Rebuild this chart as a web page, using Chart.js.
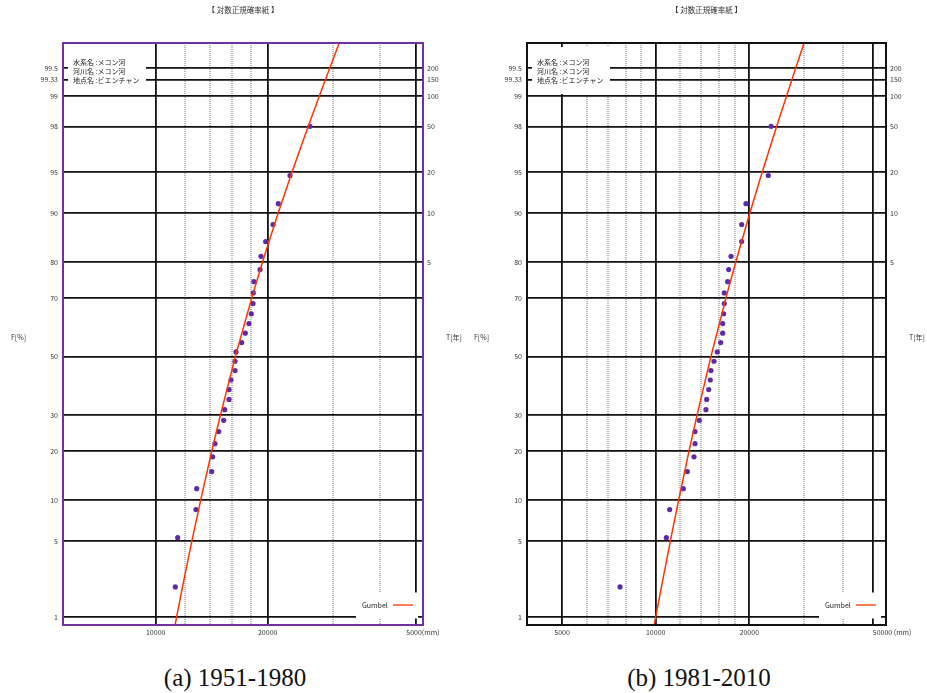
<!DOCTYPE html>
<html>
<head>
<meta charset="utf-8">
<script src="https://cdn.jsdelivr.net/npm/chart.js@4/dist/chart.umd.min.js"></script>
<style>
  body { margin: 0; background: #fff; width: 927px; height: 693px; overflow: hidden; position: relative; }
  canvas { position: absolute; top: 0; }
  #ca { left: 0; }
  #cb { left: 463px; }
  .cap { position: absolute; top: 665px; width: 300px; text-align: center;
         font-family: "Liberation Serif", "DejaVu Serif", serif; font-size: 25px; color: #111; line-height: 25px; }
</style>
</head>
<body>
<canvas id="ca" width="470" height="645"></canvas>
<canvas id="cb" width="464" height="645"></canvas>
<div class="cap" style="left:85px">(a) 1951-1980</div>
<div class="cap" style="left:549px">(b) 1981-2010</div>
<script>
// plotting positions F[%] (same 30 years in both papers)
const plotPos = [1.99, 5.30, 8.61, 11.92, 15.23, 18.54, 21.85, 25.17, 28.48, 31.79,
  35.10, 38.41, 41.72, 45.03, 48.34, 51.66, 54.97, 58.28, 61.59, 64.90,
  68.21, 71.52, 74.83, 78.15, 81.46, 84.77, 88.08, 91.39, 94.70, 98.01];

// annual maxima (mm)
const valuesA = [11290, 11460, 12830, 12890, 14140, 14230, 14430, 14770, 15230, 15330,
  15740, 15740, 15940, 16340, 16340, 16440, 17030, 17410, 17810, 18070,
  18260, 18290, 18370, 19070, 19190, 19750, 20670, 21360, 22960, 25980];
const valuesB = [7680, 10820, 11090, 12270, 12640, 13280, 13380, 13380, 13810, 14510,
  14590, 14810, 14980, 15060, 15400, 15780, 16180, 16420, 16420, 16540,
  16620, 16620, 17040, 17170, 17470, 18900, 18900, 19510, 23020, 23490];

// Gumbel fit curve
const fitProb = [0.5, 1, 2, 5, 10, 20, 30, 50, 70, 80, 90, 95, 98, 99, 99.5, 99.9];
const fitA = [11010, 11380, 11810, 12510, 13210, 14150, 14920, 16370, 18120, 19360, 21340, 23240, 25690, 27540, 29370, 33620];
const fitB = [9630, 10000, 10440, 11150, 11850, 12800, 13580, 15050, 16820, 18080, 20080, 22000, 24480, 26350, 28200, 32500];

// axis ticks
const fTicks = [1, 5, 10, 20, 30, 50, 70, 80, 90, 95, 98, 99, 99.33, 99.5];
const fLabels = ['1', '5', '10', '20', '30', '50', '70', '80', '90', '95', '98', '99', '99.33', '99.5'];
const tTicks = [80, 90, 95, 98, 99, 99.33, 99.5];
const tLabels = ['5', '10', '20', '50', '100', '150', '200'];

const gridA = [10000, 12000, 14000, 16000, 18000, 20000, 30000, 40000, 50000];
const majorA = [10000, 20000, 50000];
const xLabelsA = [10000, 20000];
const gridB = [5000, 6000, 7000, 8000, 9000, 10000, 12000, 14000, 16000, 18000, 20000, 30000, 40000, 50000];
const majorB = [5000, 10000, 20000, 50000];
const xLabelsB = [5000, 10000, 20000];

const FONT = "'Noto Sans CJK JP', 'DejaVu Sans', sans-serif";
Chart.defaults.font.family = FONT;
Chart.defaults.font.size = 7;
Chart.defaults.color = '#333';

// inverse normal (Acklam)
function probit(p) {
  const a = [-3.969683028665376e+01, 2.209460984245205e+02, -2.759285104469687e+02, 1.383577518672690e+02, -3.066479806614716e+01, 2.506628277459239e+00];
  const b = [-5.447609879822406e+01, 1.615858368580409e+02, -1.556989798598866e+02, 6.680131188771972e+01, -1.328068155288572e+01];
  const c = [-7.784894002430293e-03, -3.223964580411365e-01, -2.400758277161838e+00, -2.549671664969546e+00, 4.374664141464968e+00, 2.938163982698783e+00];
  const d = [7.784695709041462e-03, 3.224671290700398e-01, 2.445134137142996e+00, 3.754408661907416e+00];
  const pl = 0.02425;
  let q, r;
  if (p < pl) {
    q = Math.sqrt(-2 * Math.log(p));
    return (((((c[0]*q+c[1])*q+c[2])*q+c[3])*q+c[4])*q+c[5]) / ((((d[0]*q+d[1])*q+d[2])*q+d[3])*q+1);
  }
  if (p > 1 - pl) {
    q = Math.sqrt(-2 * Math.log(1 - p));
    return -(((((c[0]*q+c[1])*q+c[2])*q+c[3])*q+c[4])*q+c[5]) / ((((d[0]*q+d[1])*q+d[2])*q+d[3])*q+1);
  }
  q = p - 0.5; r = q * q;
  return (((((a[0]*r+a[1])*r+a[2])*r+a[3])*r+a[4])*r+a[5])*q / (((((b[0]*r+b[1])*r+b[2])*r+b[3])*r+b[4])*r+1);
}

// normal probability axis (values in %)
class ProbitScale extends Chart.LinearScale {
  static id = 'probit';
  static defaults = {};
  determineDataLimits() {
    this.min = this.options.min;
    this.max = this.options.max;
  }
  buildTicks() { return []; }
  configure() {
    super.configure();
    this._zLo = probit(this.min / 100);
    this._zHi = probit(this.max / 100);
  }
  getPixelForValue(v) {
    return this.getPixelForDecimal((probit(v / 100) - this._zLo) / (this._zHi - this._zLo));
  }
  getValueForPixel(px) { return null; }
}
Chart.register(ProbitScale);

function paperPlugin(cfg) {
  return {
    id: 'paper',
    beforeDatasetsDraw(chart) {
      const { ctx, chartArea: a } = chart;
      ctx.save();
      ctx.fillStyle = '#fff';
      ctx.fillRect(a.left + 5, a.top + 4, 78, 47);
      ctx.fillRect(a.right - 67, a.bottom - 32.5, 62, 26);
      ctx.restore();
    },
    afterDatasetsDraw(chart) {
      const { ctx, chartArea: a } = chart;
      ctx.save();
      // frame
      ctx.strokeStyle = cfg.frame;
      ctx.lineWidth = 2;
      ctx.strokeRect(a.left, a.top, a.right - a.left, a.bottom - a.top);
      ctx.fillStyle = '#333';
      ctx.textBaseline = 'middle';
      // title
      ctx.font = '7.5px ' + FONT;
      ctx.textAlign = 'center';
      ctx.fillText('【 対数正規確率紙 】', (a.left + a.right) / 2, 10);
      // station info
      ctx.font = '7px ' + FONT;
      ctx.textAlign = 'left';
      ctx.fillStyle = '#222';
      ctx.fillText('水系名 :メコン河', a.left + 10, 62);
      ctx.fillText('河川名 :メコン河', a.left + 10, 71);
      ctx.fillText('地点名 :ビエンチャン', a.left + 10, 80);
      // axis titles
      ctx.fillStyle = '#333';
      ctx.fillText('F[%]', 11, 337);
      ctx.fillText('T[年]', a.right + 23, 337);
      // last x label with unit
      const xs = chart.scales.x;
      ctx.fillText(cfg.lastLabel, xs.getPixelForValue(majorLast(cfg.major)) + cfg.lastOffset, 632.5);
      // legend
      ctx.fillStyle = '#222';
      ctx.fillText('Gumbel', a.right - 61, a.bottom - 20);
      ctx.strokeStyle = '#ff3300';
      ctx.lineWidth = 1.3;
      ctx.beginPath();
      ctx.moveTo(a.right - 30, a.bottom - 20);
      ctx.lineTo(a.right - 10, a.bottom - 20);
      ctx.stroke();
      ctx.restore();
    }
  };
}

function majorLast(arr) { return arr[arr.length - 1]; }

function makeChart(id, cfg) {
  const pts = cfg.values.map((v, i) => ({ x: v, y: plotPos[i] }));
  const line = cfg.fit.map((v, i) => ({ x: v, y: fitProb[i] }));
  const yOpts = {
    type: 'probit', min: 0.829, max: 99.744
  };
  const isMajor = c => cfg.major.includes(c.tick && c.tick.value);
  return new Chart(document.getElementById(id), {
    type: 'scatter',
    data: {
      datasets: [
        { type: 'line', data: line, borderColor: '#ff3300', borderWidth: 1.5, pointRadius: 0, fill: false, tension: 0 },
        { data: pts, backgroundColor: '#5b2ca6', borderWidth: 0, pointRadius: 2.6 }
      ]
    },
    options: {
      responsive: false,
      animation: false,
      events: [],
      layout: { padding: { top: 43, left: 0, right: 0, bottom: 0 } },
      plugins: { legend: { display: false }, tooltip: { enabled: false } },
      scales: {
        x: {
          type: 'logarithmic', min: cfg.xMin, max: cfg.xMax,
          afterBuildTicks: s => { s.ticks = cfg.grid.map(v => ({ value: v })); },
          afterFit: s => { s.height = 20; },
          ticks: {
            autoSkip: false, maxRotation: 0, padding: 3,
            callback: v => cfg.labels.includes(v) ? String(v) : ''
          },
          grid: {
            drawTicks: false,
            color: c => isMajor(c) ? '#111' : '#b8b8b8',
            lineWidth: c => isMajor(c) ? 1.8 : 2
          },
          border: { display: false, dash: c => isMajor(c) ? [] : [1, 1] }
        },
        y: Object.assign({}, yOpts, {
          position: 'left',
          afterBuildTicks: s => { s.ticks = fTicks.map(v => ({ value: v })); },
          afterFit: s => { s.width = cfg.yW; },
          ticks: { padding: 5, autoSkip: false, callback: (v, i) => fLabels[i] },
          grid: { drawTicks: false, color: '#111', lineWidth: 1.8 },
          border: { display: false }
        }),
        y2: Object.assign({}, yOpts, {
          position: 'right',
          afterBuildTicks: s => { s.ticks = tTicks.map(v => ({ value: v })); },
          afterFit: s => { s.width = cfg.y2W; },
          ticks: { padding: 4, autoSkip: false, callback: (v, i) => tLabels[i] },
          grid: { drawTicks: false, drawOnChartArea: false },
          border: { display: false }
        })
      }
    },
    plugins: [paperPlugin(cfg)]
  });
}

makeChart('ca', {
  values: valuesA, fit: fitA, xMin: 5634, xMax: 52300,
  grid: gridA, major: majorA, labels: xLabelsA,
  lastLabel: '5000(mm)', lastOffset: -9.4, frame: '#7030a0', yW: 63, y2W: 47
});
makeChart('cb', {
  values: valuesB, fit: fitB, xMin: 3857, xMax: 55020,
  grid: gridB, major: majorB, labels: xLabelsB,
  lastLabel: '50000 (mm)', lastOffset: -0.3, frame: '#111', yW: 64, y2W: 41
});
</script>
</body>
</html>
